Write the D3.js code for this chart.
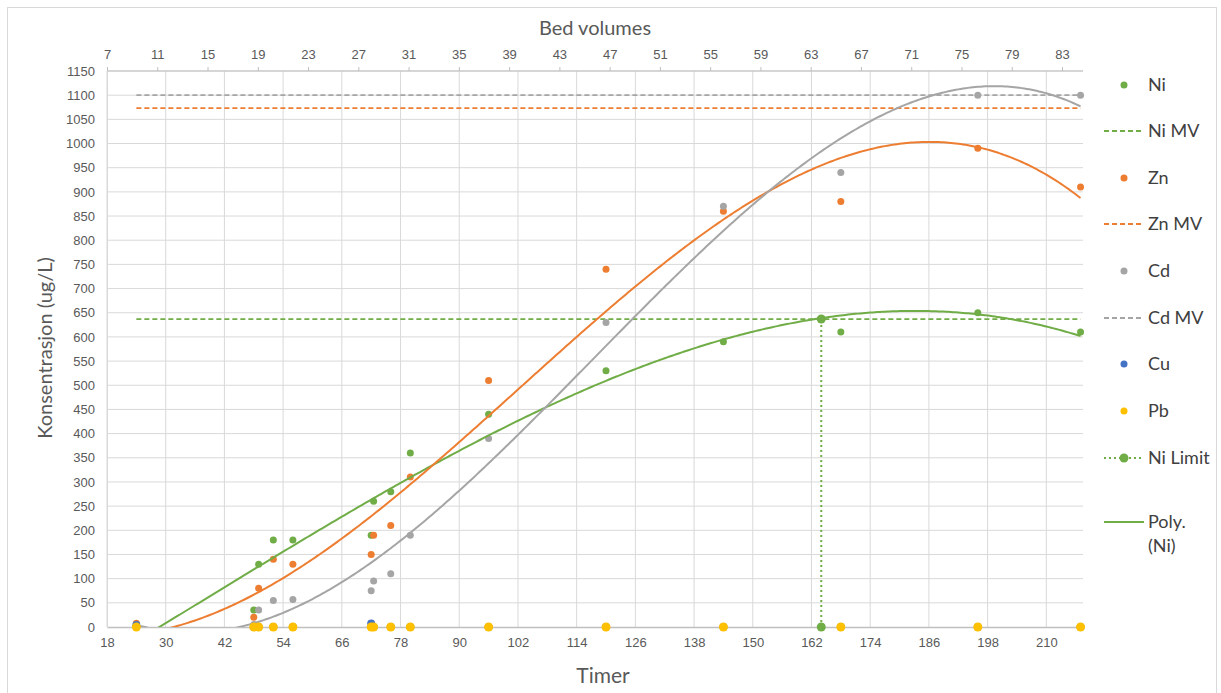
<!DOCTYPE html>
<html>
<head>
<meta charset="utf-8">
<script src="https://cdn.jsdelivr.net/npm/d3@7"></script>
<style>
  body { margin: 0; background: #fff; }
  svg { font-family: Lato, "Open Sans", sans-serif; }
</style>
</head>
<body>
<svg id="chart" width="1221" height="693"></svg>
<script>
// sampling times (hours) and measured concentrations (ug/L)
var hours = [24, 48, 49, 52, 56, 72, 72.5, 76, 80, 96, 120, 144, 168, 196, 217];
var niVals = [0, 35, 130, 180, 180, 190, 260, 280, 360, 440, 530, 590, 610, 650, 610];
var znVals = [8, 20, 80, 140, 130, 150, 190, 210, 310, 510, 740, 860, 880, 990, 910];
var cdVals = [3, 5, 35, 55, 57, 75, 95, 110, 190, 390, 630, 870, 940, 1100, 1100];
var cuVals = [4, 0, 0, 0, 0, 7, 0, 0, 0, 0, 0, 0, 0, 0, 0];
var pbVals = [0, 0, 0, 0, 0, 0, 0, 0, 0, 0, 0, 0, 0, 0, 0];

// limit values (MV) drawn as flat lines over the sampling period
var mvHours = [24, 217];
var niMV = 637, znMV = 1073, cdMV = 1100;
var niLimitHours = [164, 164];
var niLimitVals = [0, 637];

var bottomTicks = [18, 30, 42, 54, 66, 78, 90, 102, 114, 126, 138, 150, 162, 174, 186, 198, 210];
var topTicks = [7, 11, 15, 19, 23, 27, 31, 35, 39, 43, 47, 51, 55, 59, 63, 67, 71, 75, 79, 83];
var yTicks = d3.range(0, 1151, 50);

var colors = { ni: '#70ad47', zn: '#ed7d31', cd: '#a5a5a5', cu: '#4472c4', pb: '#ffc000' };

var svg = d3.select('#chart');
var margin = { left: 107, right: 1083, top: 71, bottom: 627 };

var x = d3.scaleLinear().domain([18, 217.5]).range([margin.left, margin.right]);
var xTop = d3.scaleLinear().domain([7, 84.67]).range([margin.left, margin.right]);
var y = d3.scaleLinear().domain([0, 1150]).range([margin.bottom, margin.top]);

// outer chart border
svg.append('rect')
    .attr('x', 7.5).attr('y', 7.5)
    .attr('width', 1209).attr('height', 700)
    .attr('fill', 'none').attr('stroke', '#d9d9d9');

// gridlines
svg.append('g').selectAll('line')
    .data(yTicks.slice(1)).enter().append('line')
    .attr('x1', margin.left).attr('x2', margin.right)
    .attr('y1', d => y(d)).attr('y2', d => y(d))
    .attr('stroke', '#d9d9d9').attr('stroke-width', 1);

svg.append('g').selectAll('line')
    .data(bottomTicks).enter().append('line')
    .attr('x1', d => x(d)).attr('x2', d => x(d))
    .attr('y1', margin.top).attr('y2', margin.bottom)
    .attr('stroke', '#d9d9d9').attr('stroke-width', 1);

// bottom axis
var xAxis = d3.axisBottom(x).tickValues(bottomTicks).tickSize(0).tickPadding(11).tickFormat(d3.format('d'));
var gx = svg.append('g').attr('transform', `translate(0,${margin.bottom})`).call(xAxis);
gx.select('.domain').attr('stroke', '#bfbfbf').attr('stroke-width', 1.5);
gx.selectAll('text').attr('fill', '#595959').style('font-size', '13px');

// top axis (bed volumes)
var xTopAxis = d3.axisTop(xTop).tickValues(topTicks).tickSize(4).tickPadding(8).tickFormat(d3.format('d'));
var gt = svg.append('g').attr('transform', `translate(0,${margin.top})`).call(xTopAxis);
gt.select('.domain').attr('stroke', '#bfbfbf').attr('d', `M${margin.left},0H${margin.right}`);
gt.selectAll('line').attr('stroke', '#bfbfbf');
gt.selectAll('text').attr('fill', '#595959').style('font-size', '13px');

// left axis
var yAxis = d3.axisLeft(y).tickValues(yTicks).tickSize(0).tickPadding(12).tickFormat(d3.format('d'));
var gy = svg.append('g').attr('transform', `translate(${margin.left},0)`).call(yAxis);
gy.select('.domain').attr('stroke', '#d9d9d9');
gy.selectAll('text').attr('fill', '#595959').style('font-size', '13px');

// axis titles
svg.append('text').attr('x', 595).attr('y', 35).attr('text-anchor', 'middle')
    .attr('fill', '#595959').style('font-size', '20px').text('Bed volumes');
svg.append('text').attr('x', 603).attr('y', 683).attr('text-anchor', 'middle')
    .attr('fill', '#595959').style('font-size', '21px').text('Timer');
svg.append('text').attr('transform', 'translate(52,348) rotate(-90)').attr('text-anchor', 'middle')
    .attr('fill', '#595959').style('font-size', '20px').text('Konsentrasjon (ug/L)');

// clip for the trendlines
svg.append('clipPath').attr('id', 'plot-clip')
    .append('rect')
    .attr('x', margin.left).attr('y', margin.top)
    .attr('width', margin.right - margin.left).attr('height', margin.bottom - margin.top);

// least squares polynomial (order 3) like Excel's trendline
function polyFit(xs, ys, order) {
    var n = order + 1;
    var sx = xs.map(v => (v - 120) / 100);
    var A = [], b = [];
    for (var i = 0; i < n; i++) {
        A.push([]);
        for (var j = 0; j < n; j++) {
            A[i].push(d3.sum(sx, v => Math.pow(v, i + j)));
        }
        b.push(d3.sum(sx, (v, k) => Math.pow(v, i) * ys[k]));
    }
    // gaussian elimination
    for (var c = 0; c < n; c++) {
        var p = c;
        for (var r = c + 1; r < n; r++) if (Math.abs(A[r][c]) > Math.abs(A[p][c])) p = r;
        [A[c], A[p]] = [A[p], A[c]];
        [b[c], b[p]] = [b[p], b[c]];
        for (var r2 = c + 1; r2 < n; r2++) {
            var f = A[r2][c] / A[c][c];
            for (var k = c; k < n; k++) A[r2][k] -= f * A[c][k];
            b[r2] -= f * b[c];
        }
    }
    var coef = new Array(n).fill(0);
    for (var i2 = n - 1; i2 >= 0; i2--) {
        var s = b[i2];
        for (var k2 = i2 + 1; k2 < n; k2++) s -= A[i2][k2] * coef[k2];
        coef[i2] = s / A[i2][i2];
    }
    return function (v) {
        var t = (v - 120) / 100;
        return d3.sum(coef, (cf, i) => cf * Math.pow(t, i));
    };
}

var line = d3.line().x(d => x(d[0])).y(d => y(d[1]));
var trendX = d3.range(hours[0], hours[hours.length - 1] + 0.01, 0.5);

function drawSeries(vals, color, r) {
    svg.append('g').selectAll('circle')
        .data(hours.map((h, i) => [h, vals[i]])).enter().append('circle')
        .attr('cx', d => x(d[0])).attr('cy', d => y(d[1]))
        .attr('r', r).attr('fill', color);
}

function drawMV(val, color) {
    svg.append('path')
        .datum(mvHours.map(h => [h, val]))
        .attr('d', line).attr('fill', 'none')
        .attr('stroke', color).attr('stroke-width', 1.75)
        .attr('stroke-dasharray', '5,3');
}

function drawTrend(vals, color) {
    var f = polyFit(hours, vals, 3);
    svg.append('path')
        .datum(trendX.map(h => [h, f(h)]))
        .attr('clip-path', 'url(#plot-clip)')
        .attr('d', line).attr('fill', 'none')
        .attr('stroke', color).attr('stroke-width', 2);
}

drawSeries(niVals, colors.ni, 3.5);
drawMV(niMV, colors.ni);
drawSeries(znVals, colors.zn, 3.5);
drawMV(znMV, colors.zn);
drawSeries(cdVals, colors.cd, 3.5);
drawMV(cdMV, colors.cd);
drawSeries(cuVals, colors.cu, 4);

drawTrend(niVals, colors.ni);
drawTrend(znVals, colors.zn);
drawTrend(cdVals, colors.cd);

drawSeries(pbVals, colors.pb, 4.5);

// Ni limit marker line
svg.append('path')
    .datum(niLimitHours.map((h, i) => [h, niLimitVals[i]]))
    .attr('d', line).attr('fill', 'none')
    .attr('stroke', colors.ni).attr('stroke-width', 2)
    .attr('stroke-dasharray', '2,3');
svg.append('g').selectAll('circle')
    .data(niLimitHours.map((h, i) => [h, niLimitVals[i]])).enter().append('circle')
    .attr('cx', d => x(d[0])).attr('cy', d => y(d[1]))
    .attr('r', 4.5).attr('fill', colors.ni);

// legend
var legendItems = [
    { name: 'Ni', type: 'dot', color: colors.ni, y: 85 },
    { name: 'Ni MV', type: 'dash', color: colors.ni, y: 131 },
    { name: 'Zn', type: 'dot', color: colors.zn, y: 178 },
    { name: 'Zn MV', type: 'dash', color: colors.zn, y: 224 },
    { name: 'Cd', type: 'dot', color: colors.cd, y: 271 },
    { name: 'Cd MV', type: 'dash', color: colors.cd, y: 318 },
    { name: 'Cu', type: 'dot', color: colors.cu, y: 364 },
    { name: 'Pb', type: 'dot', color: colors.pb, y: 411 },
    { name: 'Ni Limit', type: 'limit', color: colors.ni, y: 458 },
    { name: 'Poly.', type: 'solid', color: colors.ni, y: 522, extra: '(Ni)' }
];

var legend = svg.append('g').selectAll('g')
    .data(legendItems).enter().append('g')
    .attr('transform', d => `translate(0,${d.y})`);

legend.filter(d => d.type !== 'dot').append('line')
    .attr('x1', 1104).attr('x2', 1144).attr('y1', 0).attr('y2', 0)
    .attr('stroke', d => d.color).attr('stroke-width', 2)
    .attr('stroke-dasharray', d => d.type === 'dash' ? '5,3' : d.type === 'limit' ? '2,3' : null);

legend.filter(d => d.type === 'dot' || d.type === 'limit').append('circle')
    .attr('cx', 1124).attr('cy', 0)
    .attr('r', d => d.type === 'limit' ? 4.5 : 3.5)
    .attr('fill', d => d.color);

legend.append('text')
    .attr('x', 1148).attr('y', 6)
    .attr('fill', '#404040').style('font-size', '18px')
    .text(d => d.name);

legend.filter(d => d.extra).append('text')
    .attr('x', 1148).attr('y', 30)
    .attr('fill', '#404040').style('font-size', '18px')
    .text(d => d.extra);
</script>
</body>
</html>
